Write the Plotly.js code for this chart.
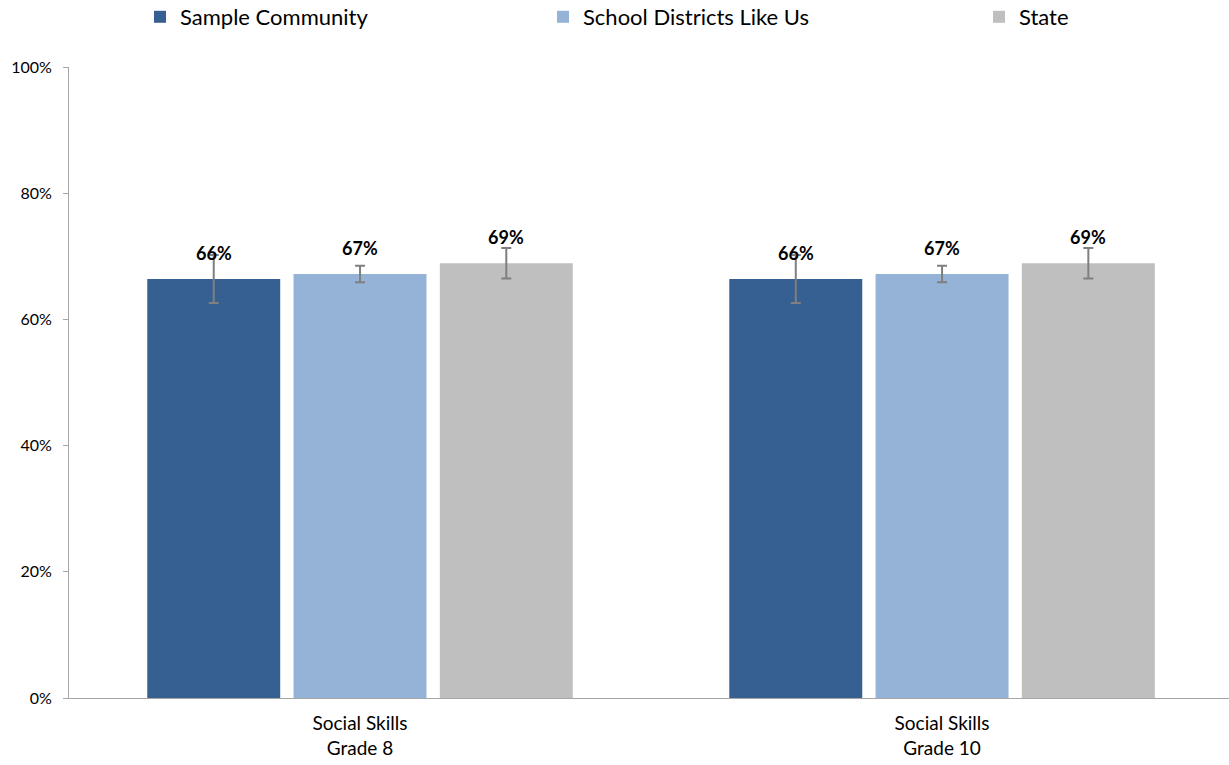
<!DOCTYPE html>
<html>
<head>
<meta charset="utf-8">
<script src="https://cdn.plot.ly/plotly-3.0.1.min.js"></script>
<style>html,body{margin:0;padding:0;background:#fff;}#chart{width:1229px;height:765px;}</style>
</head>
<body>
<div id="chart"></div>
<script>
const categories = ["Social Skills<br>Grade 8", "Social Skills<br>Grade 10"];
const seriesNames = ["Sample Community", "School Districts Like Us", "State"];
const sampleCommunity = [66.4, 66.4];
const districtsLikeUs = [67.2, 67.2];
const state = [68.9, 68.9];
const sampleErr = [3.8, 3.8];
const districtsErr = [1.3, 1.3];
const stateErr = [2.4, 2.4];
const labelsSample = ["66%", "66%"];
const labelsDistricts = ["67%", "67%"];
const labelsState = ["69%", "69%"];
const yTicks = [0, 20, 40, 60, 80, 100];

const colors = ["#376092", "#95B3D7", "#BFBFBF"];
const values = [sampleCommunity, districtsLikeUs, state];
const errs = [sampleErr, districtsErr, stateErr];
const labels = [labelsSample, labelsDistricts, labelsState];
const legendIds = ['legend', 'legend2', 'legend3'];

const traces = values.map((v, i) => ({
  type: 'bar',
  name: seriesNames[i],
  legend: legendIds[i],
  x: categories,
  y: v,
  marker: {color: colors[i]},
  error_y: {type: 'data', array: errs[i], visible: true, color: '#7F7F7F', thickness: 2, width: 5},
  hoverinfo: 'skip'
}));

const plotLeft = 69, plotRight = 1229;
const xr = [-0.5, 1.493];
const catPx = (plotRight - plotLeft) / (xr[1] - xr[0]);
const bargap = 0.246;
const slot = catPx * (1 - bargap) / 3;

const annotations = [];
values.forEach((v, i) => {
  v.forEach((val, j) => {
    annotations.push({
      x: categories[j], y: val, xref: 'x', yref: 'y',
      text: labels[i][j], showarrow: false,
      xshift: (i - 1) * slot, yshift: 26,
      font: {size: 18, color: '#000', family: 'Lato, sans-serif', weight: 'bold'}
    });
  });
});

function legendAt(px) {
  return {orientation: 'h', x: px / 1229, xref: 'container', xanchor: 'left',
          y: 1 - 17 / 765, yanchor: 'middle', yref: 'container',
          font: {size: 22, color: '#000'}, bgcolor: 'rgba(0,0,0,0)'};
}

const layout = {
  width: 1229, height: 765,
  margin: {l: plotLeft, r: 1229 - plotRight, t: 67, b: 67, autoexpand: false},
  paper_bgcolor: '#fff', plot_bgcolor: '#fff',
  font: {family: 'Lato, sans-serif', color: '#000'},
  barmode: 'group', bargap: bargap, bargroupgap: 0.091,
  showlegend: true,
  legend: legendAt(140),
  legend2: legendAt(543),
  legend3: legendAt(979),
  xaxis: {type: 'category', range: xr, showline: true, linecolor: '#A6A6A6', linewidth: 1,
          ticks: '', tickfont: {size: 19, color: '#000'}, ticklabelstandoff: 8,
          showgrid: false, zeroline: false, fixedrange: true},
  yaxis: {range: [0, 100], tickvals: yTicks, ticktext: yTicks.map(t => t + '%'),
          showline: true, linecolor: '#A6A6A6', linewidth: 1, ticks: 'outside', ticklen: 5, tickcolor: '#A6A6A6',
          tickfont: {size: 16, color: '#000'}, ticklabelstandoff: 8,
          showgrid: false, zeroline: false, fixedrange: true},
  annotations: annotations
};

Plotly.newPlot('chart', traces, layout, {displayModeBar: false, staticPlot: true});
</script>
</body>
</html>
